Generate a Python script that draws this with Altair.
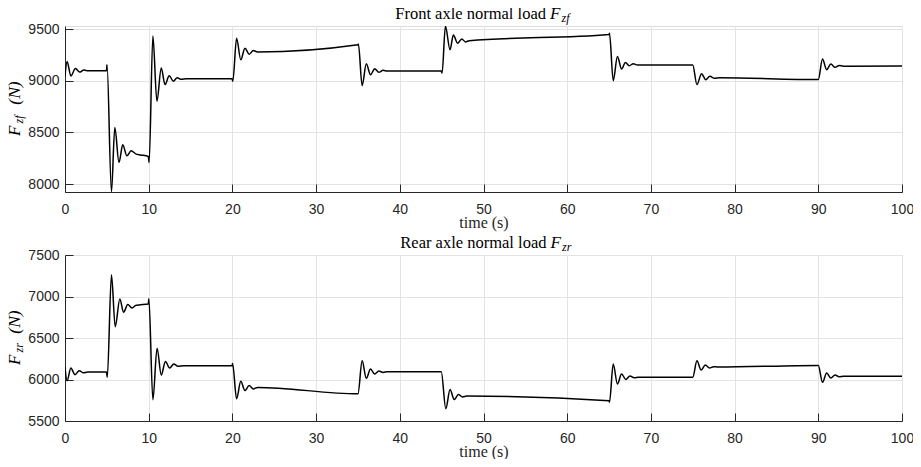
import altair as alt
import pandas as pd

# ---------------- data ----------------
x_ticks = [0, 10, 20, 30, 40, 50, 60, 70, 80, 90, 100]
front_ticks = [8000, 8500, 9000, 9500]
rear_ticks = [5500, 6000, 6500, 7000, 7500]

front_t = [0, 0.25, 0.7, 1.25, 1.75, 2.25, 2.8, 4.95, 5.02, 5.55, 5.95, 6.45, 6.9, 7.4, 7.9, 8.5, 9.0,
           9.95, 10.05, 10.5, 10.98, 11.5, 11.95, 12.45, 12.95, 13.4, 13.9, 14.5, 19.95, 20.05, 20.5,
           21.0, 21.5, 22.0, 22.5, 23.0, 35.0, 35.05, 35.5, 36.0, 36.5, 37.0, 37.5, 38.0, 38.5, 44.95,
           45.05, 45.45, 46.0, 46.4, 46.9, 47.4, 47.85, 48.3, 65.0, 65.05, 65.5, 66.0, 66.5, 66.95,
           67.4, 67.9, 68.4, 75.0, 75.5, 76.05, 76.55, 77.05, 77.6, 78.2, 90.0, 90.5, 91.0, 91.5, 92.0,
           92.5, 93.0, 100]
front_v = [9044, 9188, 9048, 9120, 9085, 9105, 9098, 9098, 9156, 7925, 8547, 8210, 8380, 8274, 8322, 8290, 8282,
           8268, 8210, 9436, 8803, 9124, 8964, 9050, 8996, 9030, 9015, 9020, 9020, 8996, 9413,
           9205, 9317, 9259, 9294, 9280, 9350, 9358, 8954, 9166, 9060, 9118, 9083, 9102, 9095, 9095,
           9076, 9530, 9301, 9445, 9365, 9407, 9378, 9390, 9450, 9461, 9002, 9236, 9115, 9179,
           9147, 9166, 9155, 9155, 8964, 9070, 9012, 9044, 9025, 9030, 9013, 9211, 9108, 9163, 9131,
           9150, 9143, 9145]

rear_t = [0, 0.25, 0.7, 1.2, 1.7, 2.2, 2.7, 4.95, 5.05, 5.55, 6.0, 6.55, 7.0, 7.5, 8.0, 8.5, 9.0, 9.95,
          10.02, 10.5, 11.0, 11.5, 12.0, 12.5, 13.0, 13.5, 14.2, 19.95, 20.02, 20.5, 21.0, 21.5, 22.0,
          22.5, 23.0, 35.0, 35.5, 36.0, 36.5, 37.0, 37.5, 38.0, 38.5, 44.95, 45.5, 46.0, 46.5, 47.0,
          47.5, 48.0, 65.0, 65.05, 65.5, 66.0, 66.5, 67.0, 67.5, 68.0, 68.5, 75.0, 75.5, 76.0, 76.5,
          77.0, 77.5, 78.0, 90.0, 90.5, 91.0, 91.5, 92.0, 92.5, 93.0, 100]
rear_v = [6145, 5986, 6138, 6058, 6106, 6080, 6090, 6090, 6026, 7261, 6635, 6970, 6811, 6903, 6862, 6895, 6900, 6910,
          6974, 5756, 6377, 6054, 6217, 6138, 6186, 6160, 6167, 6167, 6193, 5768, 5978, 5867, 5927,
          5887, 5905, 5827, 6225, 6014, 6126, 6066, 6102, 6085, 6094, 6094, 5648, 5879, 5759, 5819,
          5790, 5800, 5745, 5727, 6186, 5947, 6066, 6000, 6042, 6020, 6026, 6026, 6225, 6114, 6174,
          6138, 6155, 6150, 6170, 5966, 6078, 6018, 6054, 6032, 6040, 6040]

W, H, GAP = 837, 166, 63
PAD = {"left": 57, "top": 18, "right": 11, "bottom": 451 - 18 - (2 * H + GAP)}
AX = "#262626"
GRID = "#e3e3e3"
SERIF = "Liberation Serif"
SANS = "Liberation Sans"


def txt(s, x, y, size, italic=False, angle=0, align="left"):
    return alt.Chart(alt.Data(values=[{}])).mark_text(
        text=s, font=SERIF, fontSize=size, fontStyle="italic" if italic else "normal",
        angle=angle, align=align, baseline="alphabetic", color="black"
    ).encode(x=alt.value(x), y=alt.value(y))


def panel(t, v, ydom, yticks, title_main, sub, title_pos):
    df = pd.DataFrame({"t": t, "v": v})
    xs = alt.Scale(domain=[0, 100], nice=False, zero=False)
    ys = alt.Scale(domain=ydom, nice=False, zero=False)
    line = alt.Chart(df).mark_line(
        color="black", strokeWidth=1.5, interpolate="monotone", clip=True
    ).encode(
        x=alt.X("t:Q", scale=xs, axis=alt.Axis(
            values=x_ticks, title="time (s)", ticks=False, labelPadding=10,
            labelFont=SANS, labelFontSize=14, labelColor=AX,
            titleFont=SERIF, titleFontSize=16, titleFontWeight="normal", titleColor=AX,
            titlePadding=-2, domainColor=AX, domainWidth=1,
            grid=True, gridColor=GRID, gridWidth=1, labelFlush=False, labelOverlap=False)),
        y=alt.Y("v:Q", scale=ys, axis=alt.Axis(
            values=yticks, title=None, format="d", ticks=False, labelPadding=6,
            labelFont=SANS, labelFontSize=14, labelColor=AX,
            domainColor=AX, domainWidth=1,
            grid=True, gridColor=GRID, gridWidth=1, labelFlush=False, labelOverlap=False)),
    )
    tick_layer = alt.Chart(df).mark_line(opacity=0).encode(
        x=alt.X("t:Q", scale=xs, axis=alt.Axis(
            values=x_ticks, orient="bottom", offset=-8, tickSize=8, tickColor=AX, tickWidth=1,
            labels=False, domain=False, grid=False, title=None)),
        y=alt.Y("v:Q", scale=ys, axis=alt.Axis(
            values=yticks, orient="left", offset=-8, tickSize=8, tickColor=AX, tickWidth=1,
            labels=False, domain=False, grid=False, title=None)),
    )
    tx, ty = title_pos
    texts = [
        txt(title_main, tx, ty, 16.5, align="right"),
        txt("F", tx + 4, ty, 17, italic=True),
        txt(sub, tx + 15.5, ty + 3.2, 12, italic=True),
        txt("F", -45, H / 2 + 27, 17, italic=True, angle=270),
        txt(sub, -42, H / 2 + 14.5, 12, italic=True, angle=270),
        txt("(N)", -45, H / 2 - 16, 17.5, italic=True, angle=270, align="center"),
    ]
    return alt.layer(line, tick_layer, *texts).resolve_axis(
        x="independent", y="independent"
    ).properties(width=W, height=H)


top = panel(front_t, front_v, [7923, 9532], front_ticks, "Front axle normal load", "zf", (481, -7))
bottom = panel(rear_t, rear_v, [5500, 7500], rear_ticks, "Rear axle normal load", "zr", (481.5, -7))

chart = alt.vconcat(top, bottom, spacing=GAP, bounds="flush").add_params(
    alt.param(name="width", value=W),
    alt.param(name="height", value=2 * H + GAP),
).properties(
    autosize=alt.AutoSizeParams(type="none"),
    padding=PAD,
).configure_view(strokeWidth=0).configure(background="white")

chart.save("out.html", embed_options={"renderer": "svg", "actions": False})
